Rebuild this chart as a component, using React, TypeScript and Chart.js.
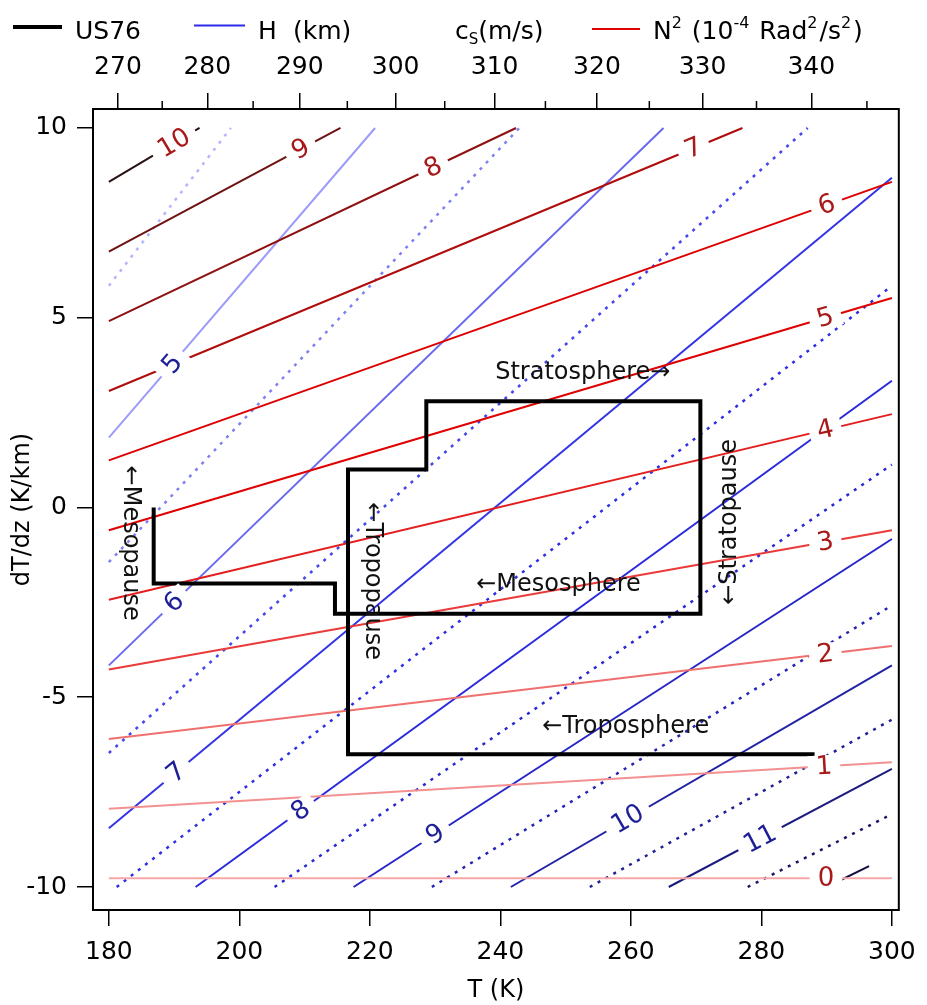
import React, { useEffect, useRef } from 'react';
import { Chart, registerables } from 'chart.js';

Chart.register(...registerables);

const FONT = '"DejaVu Sans", "Liberation Sans", sans-serif';

// ---------- axes ----------
const X_MIN = 177.57;
const X_MAX = 301.06;
const Y_MIN = -10.606;
const Y_MAX = 10.5;
const xTicks = [180, 200, 220, 240, 260, 280, 300];
const yTicks = [-10, -5, 0, 5, 10];
const csMajor = [270, 280, 290, 300, 310, 320, 330, 340];
const csMinor = [275, 285, 295, 305, 315, 325, 335, 345];
const CS_COEF = 20.047; // c_s = CS_COEF * sqrt(T)
const csToT = (c: number) => (c / CS_COEF) * (c / CS_COEF);

// ---------- US76 profile (T, dT/dz) ----------
const us76T = [288.15, 216.65, 216.65, 228.65, 228.65, 270.65, 270.65, 214.65, 214.65, 186.87, 186.87];
const us76Lapse = [-6.5, -6.5, 1.0, 1.0, 2.8, 2.8, -2.8, -2.8, -2.0, -2.0, 0.0];

// ---------- N^2 contours (10^-4 rad^2/s^2) ----------
const n2Levels = [0, 1, 2, 3, 4, 5, 6, 7, 8, 9, 10];
const n2StartT = [180, 180, 180, 180, 180, 180, 180, 180, 180, 180, 180];
const n2StartY = [-9.77, -7.94, -6.1, -4.27, -2.43, -0.6, 1.24, 3.07, 4.91, 6.74, 8.58];
const n2EndT = [300, 300, 300, 300, 300, 300, 300, 277.1, 242.4, 215.5, 193.9];
const n2EndY = [-9.77, -6.71, -3.65, -0.6, 2.46, 5.52, 8.58, 10, 10, 10, 10];
const n2Colors = ['#f6a8a8', '#f39090', '#f07070', '#ea3a3a', '#e41e1e', '#e00000', '#dd0000', '#b00c0c', '#8e1010', '#6e1212', '#2a1010'];
const n2LabelT = [289.9, 289.6, 289.8, 289.8, 289.8, 289.8, 290.0, 269.6, 229.7, 209.4, 190.0];
const n2LabelY = [-9.77, -6.82, -3.86, -0.91, 2.05, 5.0, 7.97, 9.47, 8.96, 9.44, 9.6];
const N2_LABEL_COLOR = '#a81a1a';

// ---------- H contours (km) ----------
const hLevels = [4.5, 5, 5.5, 6, 6.5, 7, 7.5, 8, 8.5, 9, 9.5, 10, 10.5, 11, 11.5, 12];
const hStartT = [180, 180, 180, 180, 180, 180, 181.2, 193.3, 205.4, 217.5, 229.5, 241.6, 253.7, 265.8, 277.9, 290.0];
const hStartY = [5.84, 1.84, -1.44, -4.16, -6.47, -8.45, -10, -10, -10, -10, -10, -10, -10, -10, -10, -10];
const hEndT = [198.7, 220.8, 242.9, 265.0, 287.1, 300, 300, 300, 300, 300, 300, 300, 300, 300, 300, 296.5];
const hEndY = [10, 10, 10, 10, 10, 8.69, 5.84, 3.34, 1.13, -0.83, -2.58, -4.16, -5.59, -6.89, -8.08, -9.45];
const hColors = ['#b4b4ff', '#9c9cf8', '#8080f4', '#6a6aee', '#4848ea', '#3434e6', '#2e2ee2', '#2a2adc', '#2828d2', '#2626c6', '#2424b6', '#2222a6', '#202094', '#1c1c7e', '#18186a', '#101040'];
const hLabelLevels = [5, 6, 7, 8, 9, 10, 11];
const hLabelT = [189.7, 190.0, 190.3, 209.4, 230.0, 259.5, 279.8];
const hLabelY = [3.78, -2.5, -6.98, -7.99, -8.61, -8.21, -8.73];
const H_LABEL_COLOR = '#1e1e96';

// ---------- annotations ----------
const annText = ['Stratosphere\u2192', '\u2190Mesosphere', '\u2190Troposphere', '\u2190Mesopause', '\u2190Tropopause', '\u2190Stratopause'];
const annT = [239.2, 236.3, 246.4, 183.2, 220.4, 275.2];
const annY = [3.54, -2.04, -5.78, -0.94, -1.94, -0.38];
const annRot = [0, 0, 0, 90, 90, -90];
const annAlign = ['left', 'left', 'left', 'center', 'center', 'center'];

const overlay = {
  id: 'overlay',
  afterDraw(chart: any) {
    const ctx = chart.ctx as CanvasRenderingContext2D;
    const xs = chart.scales.x;
    const ys = chart.scales.y;
    const ca = chart.chartArea;

    const drawLabel = (text: string, t: number, g: number, t0: number, g0: number, t1: number, g1: number, color: string) => {
      const px = xs.getPixelForValue(t);
      const py = ys.getPixelForValue(g);
      const ax = xs.getPixelForValue(t1) - xs.getPixelForValue(t0);
      const ay = ys.getPixelForValue(g1) - ys.getPixelForValue(g0);
      const ang = Math.atan2(ay, ax);
      ctx.save();
      ctx.beginPath();
      ctx.rect(ca.left + 1, ca.top + 1, ca.right - ca.left - 2, ca.bottom - ca.top - 2);
      ctx.clip();
      ctx.translate(px, py);
      ctx.rotate(ang);
      ctx.font = `26px ${FONT}`;
      const w = ctx.measureText(text).width;
      ctx.fillStyle = '#fff';
      ctx.fillRect(-w / 2 - 8, -11, w + 16, 22);
      ctx.fillStyle = color;
      ctx.textAlign = 'center';
      ctx.textBaseline = 'middle';
      ctx.fillText(text, 0, 1);
      ctx.restore();
    };

    n2Levels.forEach((n, i) => {
      drawLabel(String(n), n2LabelT[i], n2LabelY[i], n2StartT[i], n2StartY[i], n2EndT[i], n2EndY[i], N2_LABEL_COLOR);
    });
    hLabelLevels.forEach((h, j) => {
      const i = hLevels.indexOf(h);
      drawLabel(String(h), hLabelT[j], hLabelY[j], hStartT[i], hStartY[i], hEndT[i], hEndY[i], H_LABEL_COLOR);
    });

    // annotations
    annText.forEach((txt, i) => {
      ctx.save();
      ctx.translate(xs.getPixelForValue(annT[i]), ys.getPixelForValue(annY[i]));
      ctx.rotate((annRot[i] * Math.PI) / 180);
      ctx.font = `24px ${FONT}`;
      ctx.fillStyle = '#111';
      ctx.textAlign = annAlign[i] as CanvasTextAlign;
      ctx.textBaseline = 'middle';
      ctx.fillText(txt, 0, 0);
      ctx.restore();
    });

    // frame
    ctx.save();
    ctx.strokeStyle = '#000';
    ctx.lineWidth = 2;
    ctx.strokeRect(ca.left, ca.top, ca.right - ca.left, ca.bottom - ca.top);

    // top minor ticks
    ctx.lineWidth = 1.5;
    csMinor.forEach((c) => {
      const t = csToT(c);
      if (t < X_MIN || t > X_MAX) return;
      const x = xs.getPixelForValue(t);
      ctx.beginPath();
      ctx.moveTo(x, ca.top);
      ctx.lineTo(x, ca.top - 8);
      ctx.stroke();
    });

    // legend row
    const base = 39;
    ctx.fillStyle = '#000';
    ctx.textAlign = 'left';
    ctx.textBaseline = 'alphabetic';
    ctx.lineCap = 'butt';
    ctx.strokeStyle = '#000';
    ctx.lineWidth = 4;
    ctx.beginPath(); ctx.moveTo(13, 27); ctx.lineTo(62, 27); ctx.stroke();
    ctx.font = `25px ${FONT}`;
    ctx.fillText('US76', 75, base);

    ctx.strokeStyle = '#2a2ae8';
    ctx.lineWidth = 2;
    ctx.beginPath(); ctx.moveTo(194, 25.5); ctx.lineTo(245, 25.5); ctx.stroke();
    ctx.fillText('H', 258, base);
    ctx.fillText('(km)', 293, base);

    let x = 455;
    ctx.font = `25px ${FONT}`;
    ctx.fillText('c', x, base); x += ctx.measureText('c').width;
    ctx.font = `15px ${FONT}`;
    ctx.fillText('S', x, base + 5); x += ctx.measureText('S').width;
    ctx.font = `25px ${FONT}`;
    ctx.fillText('(m/s)', x, base);

    ctx.strokeStyle = '#e00000';
    ctx.lineWidth = 2;
    ctx.beginPath(); ctx.moveTo(592, 29); ctx.lineTo(640, 29); ctx.stroke();
    const parts: [string, boolean][] = [['N', false], ['2', true], [' (10', false], ['-4', true], [' Rad', false], ['2', true], ['/s', false], ['2', true], [')', false]];
    x = 653;
    parts.forEach(([s, sup]) => {
      ctx.font = sup ? `16px ${FONT}` : `25px ${FONT}`;
      ctx.fillText(s, x, sup ? base - 11 : base);
      x += ctx.measureText(s).width + (sup ? 2 : 0);
    });
    ctx.restore();
  },
};

export default function App() {
  const ref = useRef<HTMLCanvasElement>(null);
  useEffect(() => {
    document.body.style.margin = '0';
    const datasets: any[] = [];
    datasets.push({
      label: 'US76',
      data: us76T.map((t, i) => ({ x: t, y: us76Lapse[i] })),
      showLine: true,
      borderColor: '#000',
      borderWidth: 4,
      pointRadius: 0,
      borderJoinStyle: 'miter',
      borderCapStyle: 'butt',
      fill: false,
    });
    n2Levels.forEach((n, i) => {
      datasets.push({
        label: 'N2 ' + n,
        data: [{ x: n2StartT[i], y: n2StartY[i] }, { x: n2EndT[i], y: n2EndY[i] }],
        showLine: true,
        borderColor: n2Colors[i],
        borderWidth: 2,
        pointRadius: 0,
        fill: false,
      });
    });
    hLevels.forEach((h, i) => {
      const solid = Number.isInteger(h);
      datasets.push({
        label: 'H ' + h,
        data: [{ x: hStartT[i], y: hStartY[i] }, { x: hEndT[i], y: hEndY[i] }],
        showLine: true,
        borderColor: hColors[i],
        borderWidth: solid ? 2 : 2.5,
        borderDash: solid ? [] : [3, 6],
        pointRadius: 0,
        fill: false,
      });
    });

    const tickFont = { family: FONT, size: 25 };
    const chart = new Chart(ref.current as HTMLCanvasElement, {
      type: 'scatter',
      data: { datasets },
      options: {
        animation: false,
        responsive: false,
        events: [],
        layout: { padding: { left: 0, right: 20, top: 0, bottom: 0 } },
        plugins: { legend: { display: false }, tooltip: { enabled: false } },
        scales: {
          x: {
            type: 'linear',
            position: 'bottom',
            min: X_MIN,
            max: X_MAX,
            afterBuildTicks: (s: any) => { s.ticks = xTicks.map((v) => ({ value: v })); },
            afterFit: (s: any) => { s.height = 95; },
            ticks: { font: tickFont, color: '#000', padding: 11, maxRotation: 0, autoSkip: false, callback: (v: any) => String(v) },
            grid: { drawOnChartArea: false, drawTicks: true, tickLength: 16, color: '#000', lineWidth: 1.5 },
            border: { display: false },
            title: { display: true, text: 'T (K)', font: { family: FONT, size: 24 }, color: '#000', padding: { top: 0, bottom: 0 } },
          },
          xTop: {
            type: 'linear',
            position: 'top',
            min: X_MIN,
            max: X_MAX,
            afterBuildTicks: (s: any) => { s.ticks = csMajor.map((c) => ({ value: csToT(c) })); },
            afterFit: (s: any) => { s.height = 109; },
            ticks: { font: tickFont, color: '#000', padding: 11, maxRotation: 0, autoSkip: false, callback: (_v: any, i: number) => String(csMajor[i]) },
            grid: { drawOnChartArea: false, drawTicks: true, tickLength: 16, color: '#000', lineWidth: 1.5 },
            border: { display: false },
          },
          y: {
            type: 'linear',
            position: 'left',
            min: Y_MIN,
            max: Y_MAX,
            afterBuildTicks: (s: any) => { s.ticks = yTicks.map((v) => ({ value: v })); },
            afterFit: (s: any) => { s.width = 93; },
            ticks: { font: tickFont, color: '#000', padding: 10, autoSkip: false, callback: (v: any) => String(v) },
            grid: { drawOnChartArea: false, drawTicks: true, tickLength: 16, color: '#000', lineWidth: 1.5 },
            border: { display: false },
            title: { display: true, text: 'dT/dz (K/km)', font: { family: FONT, size: 24 }, color: '#000', padding: { top: 8, bottom: 0 } },
          },
        },
      } as any,
      plugins: [overlay],
    });
    return () => chart.destroy();
  }, []);
  return (
    <div style={{ width: 927, height: 1005, background: '#fff' }}>
      <canvas ref={ref} width={927} height={1005} style={{ display: 'block' }} />
    </div>
  );
}
